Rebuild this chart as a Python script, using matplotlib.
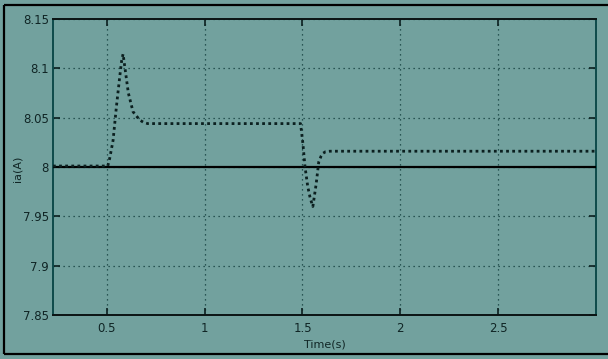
import matplotlib.pyplot as plt
from matplotlib.lines import Line2D

# -----------------------------
# Data
# -----------------------------
# measured current ia (A) against time (s)
time_s = [0.225, 0.505, 0.515, 0.532, 0.549, 0.566, 0.576, 0.583, 0.595,
          0.610, 0.634, 0.668, 0.690, 0.709, 1.490, 1.502, 1.513, 1.527,
          1.540, 1.553, 1.570, 1.583, 1.595, 1.604, 1.618, 1.640, 1.660, 3.0]
ia_amp = [8.001, 8.001, 8.009, 8.027, 8.061, 8.0915, 8.108, 8.1145, 8.097,
          8.075, 8.056, 8.0476, 8.045, 8.044, 8.044, 8.024, 8.0, 7.98,
          7.968, 7.960, 7.983, 8.005, 8.011, 8.0138, 8.0155, 8.016, 8.016, 8.016]

# reference current
ref_time = [0.225, 3.0]
ref_amp = [8.0, 8.0]

x_ticks = [0.5, 1, 1.5, 2, 2.5]
x_tick_labels = ["0.5", "1", "1.5", "2", "2.5"]
y_ticks = [7.85, 7.9, 7.95, 8, 8.05, 8.1, 8.15]
y_tick_labels = ["7.85", "7.9", "7.95", "8", "8.05", "8.1", "8.15"]

# -----------------------------
# Plot
# -----------------------------
bg = "#72a19e"
txt = "#102525"
plt.rcParams["font.family"] = ["DejaVu Sans"]

fig = plt.figure(figsize=(6.08, 3.59), dpi=100, facecolor=bg)
fig.patch.set_linewidth(0)
ax = fig.add_axes([53 / 608, 44 / 359, 543 / 608, 296 / 359])
ax.set_facecolor(bg)

ax.plot(ref_time, ref_amp, color="black", linewidth=1.6, zorder=3)
ax.plot(time_s, ia_amp, color="#0b1f1f", linewidth=2.0,
        linestyle=(0, (1, 1.2)), zorder=4)

ax.set_xlim(0.225, 3.0)
ax.set_ylim(7.85, 8.15)
ax.set_xticks(x_ticks)
ax.set_xticklabels(x_tick_labels)
ax.set_yticks(y_ticks)
ax.set_yticklabels(y_tick_labels)

ax.grid(True, color="#123c3c", linestyle=(0, (1, 3)), linewidth=0.9)
ax.tick_params(direction="in", length=5, width=1.2, colors="#0b1f1f",
               labelsize=8.5, top=True, right=True)
ax.tick_params(axis="x", pad=5)
ax.tick_params(axis="y", pad=3)
for lbl in ax.get_xticklabels() + ax.get_yticklabels():
    lbl.set_color(txt)

ax.spines["top"].set_color("#0b1414")
ax.spines["bottom"].set_color("#0b1414")
ax.spines["left"].set_color("#0e4a4a")
ax.spines["right"].set_color("#0e4a4a")
for s in ax.spines.values():
    s.set_linewidth(1.4)

ax.set_xlabel("Time(s)", fontsize=8, color=txt)
ax.set_ylabel("ia(A)", fontsize=8, color=txt)
ax.xaxis.set_label_coords(0.5, -0.082)
ax.yaxis.set_label_coords(-0.056, 0.495)

# outer frame: top, left and bottom edges
fx0, fy0, fy1 = 4 / 608, 5 / 359, 354 / 359
for xs, ys in [([fx0, 1.01], [fy1, fy1]), ([fx0, fx0], [fy0, fy1]), ([fx0, 1.01], [fy0, fy0])]:
    fig.lines.append(Line2D(xs, ys, transform=fig.transFigure,
                            color="black", linewidth=1.6,
                            solid_capstyle="butt"))

plt.savefig("out.png", dpi=100, facecolor=bg)
